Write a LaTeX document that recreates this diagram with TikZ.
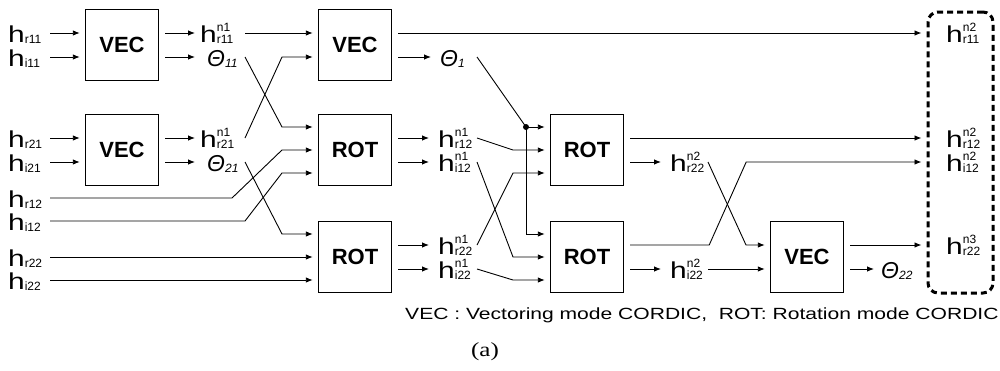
\documentclass[tikz,border=0pt]{standalone}
\usepackage{fontspec}
\setmainfont{Liberation Sans}
\newfontfamily\capfont{Liberation Sans}[FakeStretch=1.3]
\newfontfamily\serifa{Liberation Serif}[FakeStretch=1.25]
\usetikzlibrary{arrows.meta}
\newcommand{\hlab}[2]{\scalebox{1.3}[1]{\fontsize{23}{23}\selectfont h}\makebox[0pt][l]{\raisebox{11pt}{\fontsize{12}{12}\selectfont #2}}\raisebox{-1pt}{\fontsize{12}{12}\selectfont #1}}
\newcommand{\thlab}[1]{{\fontsize{23}{23}\selectfont\itshape Θ}\raisebox{-1pt}{\fontsize{12}{12}\selectfont\itshape #1}}
\tikzset{
  blk/.style={draw, line width=1.4pt, minimum width=73pt, minimum height=71pt, inner sep=0pt, font=\fontsize{22}{22}\selectfont\bfseries},
  lab/.style={inner sep=0pt, anchor=west, text height=18pt, text depth=0pt},
  arr/.style={-{Latex[length=7pt,width=5.5pt]}, line width=0.9pt, shorten >=5pt},
  tarr/.style={arr, shorten >=9pt},
  ln/.style={line width=0.9pt},
  dbx/.style={draw, line width=3pt, dash pattern=on 6pt off 4pt, rounded corners=10pt, minimum width=65pt, minimum height=281pt, inner sep=0pt}
}
\begin{document}
\begin{tikzpicture}[x=1pt,y=-1pt]
\useasboundingbox (0,0) rectangle (1000,370);
% blocks
\node[blk] (vec1) at (122,45) {VEC};
\node[blk] (vec2) at (122,150) {VEC};
\node[blk] (vec3) at (355,45) {VEC};
\node[blk] (rot1) at (355,150) {ROT};
\node[blk] (rot2) at (355,257) {ROT};
\node[blk] (rot3) at (587,150) {ROT};
\node[blk] (rot4) at (587,257) {ROT};
\node[blk] (vec4) at (807,257) {VEC};
\node[dbx] (dbox) at (960.5,152.5) {};
% input labels
\node[lab] (hr11) at (8,33) {\hlab{r11}{}};
\node[lab] (hi11) at (8,57) {\hlab{i11}{}};
\node[lab] (hr21) at (8,138) {\hlab{r21}{}};
\node[lab] (hi21) at (8,162) {\hlab{i21}{}};
\node[lab] (hr12) at (8,198) {\hlab{r12}{}};
\node[lab] (hi12) at (8,221) {\hlab{i12}{}};
\node[lab] (hr22) at (8,257) {\hlab{r22}{}};
\node[lab] (hi22) at (8,280) {\hlab{i22}{}};
% column 1 outputs
\node[lab] (hnr11) at (200,33) {\hlab{r11}{n1}};
\node[lab] (th11) at (207,57) {\thlab{11}};
\node[lab] (hnr21) at (200,138) {\hlab{r21}{n1}};
\node[lab] (th21) at (207,162) {\thlab{21}};
% column 2 outputs
\node[lab] (th1) at (440,57) {\thlab{1}};
\node[lab] (hnr12) at (438,138) {\hlab{r12}{n1}};
\node[lab] (hni12) at (438,162) {\hlab{i12}{n1}};
\node[lab] (hnr22) at (438,245) {\hlab{r22}{n1}};
\node[lab] (hni22) at (438,269) {\hlab{i22}{n1}};
% column 3 outputs
\node[lab] (hmr22) at (670,162) {\hlab{r22}{n2}};
\node[lab] (hmi22) at (670,269) {\hlab{i22}{n2}};
\node[lab] (th22) at (881,269) {\thlab{22}};
% final outputs
\node[lab] (o11) at (946,33) {\hlab{r11}{n2}};
\node[lab] (o12) at (946,138) {\hlab{r12}{n2}};
\node[lab] (o12i) at (946,162) {\hlab{i12}{n2}};
\node[lab] (o22) at (946,245) {\hlab{r22}{n3}};
% inputs to column 1 and 2
\draw[arr] ([xshift=42pt]hr11.west) -- ([yshift=12pt]vec1.west);
\draw[arr] ([xshift=42pt]hi11.west) -- ([yshift=-12pt]vec1.west);
\draw[arr] ([xshift=42pt]hr21.west) -- ([yshift=12pt]vec2.west);
\draw[arr] ([xshift=42pt]hi21.west) -- ([yshift=-12pt]vec2.west);
\draw[arr] ([xshift=42pt]hr12.west) -- ++(182,0) -- ++(50,-48) -- (rot1.west);
\draw[arr] ([xshift=42pt]hi12.west) -- ++(195,0) -- ++(37,-48) -- ([yshift=-23pt]rot1.west);
\draw[arr] ([xshift=42pt]hr22.west) -- (rot2.west);
\draw[arr] ([xshift=42pt]hi22.west) -- ([yshift=-23pt]rot2.west);
% column 1 outputs
\draw[arr] ([shift={(6pt,12pt)}]vec1.east) -- (hnr11.west);
\draw[arr] ([shift={(6pt,-12pt)}]vec1.east) -- (hnr11.west |- th11.west);
\draw[arr] ([shift={(6pt,12pt)}]vec2.east) -- (hnr21.west);
\draw[arr] ([shift={(6pt,-12pt)}]vec2.east) -- (hnr21.west |- th21.west);
\draw[arr] ([xshift=45pt]hnr11.west) -- ([yshift=12pt]vec3.west);
\draw[arr] ([xshift=38pt]th11.west) -- ++(37,70) -- ([yshift=23pt]rot1.west);
\draw[arr] ([xshift=45pt]hnr21.west) -- ++(37,-81) -- ([yshift=-12pt]vec3.west);
\draw[arr] ([xshift=38pt]th21.west) -- ++(37,72) -- ([yshift=23pt]rot2.west);
% column 2 outputs
\draw[arr] ([shift={(6pt,12pt)}]vec3.east) -- (dbox.west |- o11.west);
\draw[tarr] ([shift={(6pt,-12pt)}]vec3.east) -- (th1.west);
\draw[tarr] ([shift={(6pt,12pt)}]rot1.east) -- (hnr12.west);
\draw[tarr] ([shift={(6pt,-12pt)}]rot1.east) -- (hni12.west);
\draw[tarr] ([shift={(6pt,12pt)}]rot2.east) -- (hnr22.west);
\draw[tarr] ([shift={(6pt,-12pt)}]rot2.east) -- (hni22.west);
\coordinate (j) at (526,127);
\draw[ln] ([xshift=37pt]th1.west) -- (j);
\fill (j) circle (3pt);
\draw[arr] (j) -- ([yshift=23pt]rot3.west);
\draw[arr] (j) -- ++(0,107) -- ([yshift=23pt]rot4.west);
\draw[arr] ([xshift=39pt]hnr12.west) -- ++(36,12) -- (rot3.west);
\draw[arr] ([xshift=39pt]hni12.west) -- ++(36,95) -- (rot4.west);
\draw[arr] ([xshift=39pt]hnr22.west) -- ++(36,-72) -- ([yshift=-23pt]rot3.west);
\draw[arr] ([xshift=39pt]hni22.west) -- ++(36,11) -- ([yshift=-23pt]rot4.west);
% column 3 outputs
\draw[arr] ([shift={(6pt,12pt)}]rot3.east) -- (dbox.west |- o12.west);
\draw[tarr] ([shift={(6pt,-12pt)}]rot3.east) -- (hmr22.west);
\draw[arr] ([xshift=38pt]hmr22.west) -- ++(38,83) -- ([yshift=12pt]vec4.west);
\draw[arr] ([shift={(6pt,12pt)}]rot4.east) -- ++(79,0) -- ++(37,-83) -- (dbox.west |- o12i.west);
\draw[tarr] ([shift={(6pt,-12pt)}]rot4.east) -- (hmi22.west);
\draw[arr] ([xshift=38pt]hmi22.west) -- ([yshift=-12pt]vec4.west);
\draw[arr] ([shift={(6pt,12pt)}]vec4.east) -- (dbox.west |- o22.west);
\draw[arr] ([shift={(6pt,-12pt)}]vec4.east) -- ([xshift=-2pt]th22.west);
% captions
\node[anchor=west, inner sep=0pt, font=\capfont\fontsize{16.2}{16.2}\selectfont] (cap) at (405,315) {VEC : Vectoring mode CORDIC,\ \ ROT: Rotation mode CORDIC};
\node[inner sep=0pt, font=\serifa\fontsize{20}{20}\selectfont] (lbla) at (485,352) {(a)};
\end{tikzpicture}
\end{document}
